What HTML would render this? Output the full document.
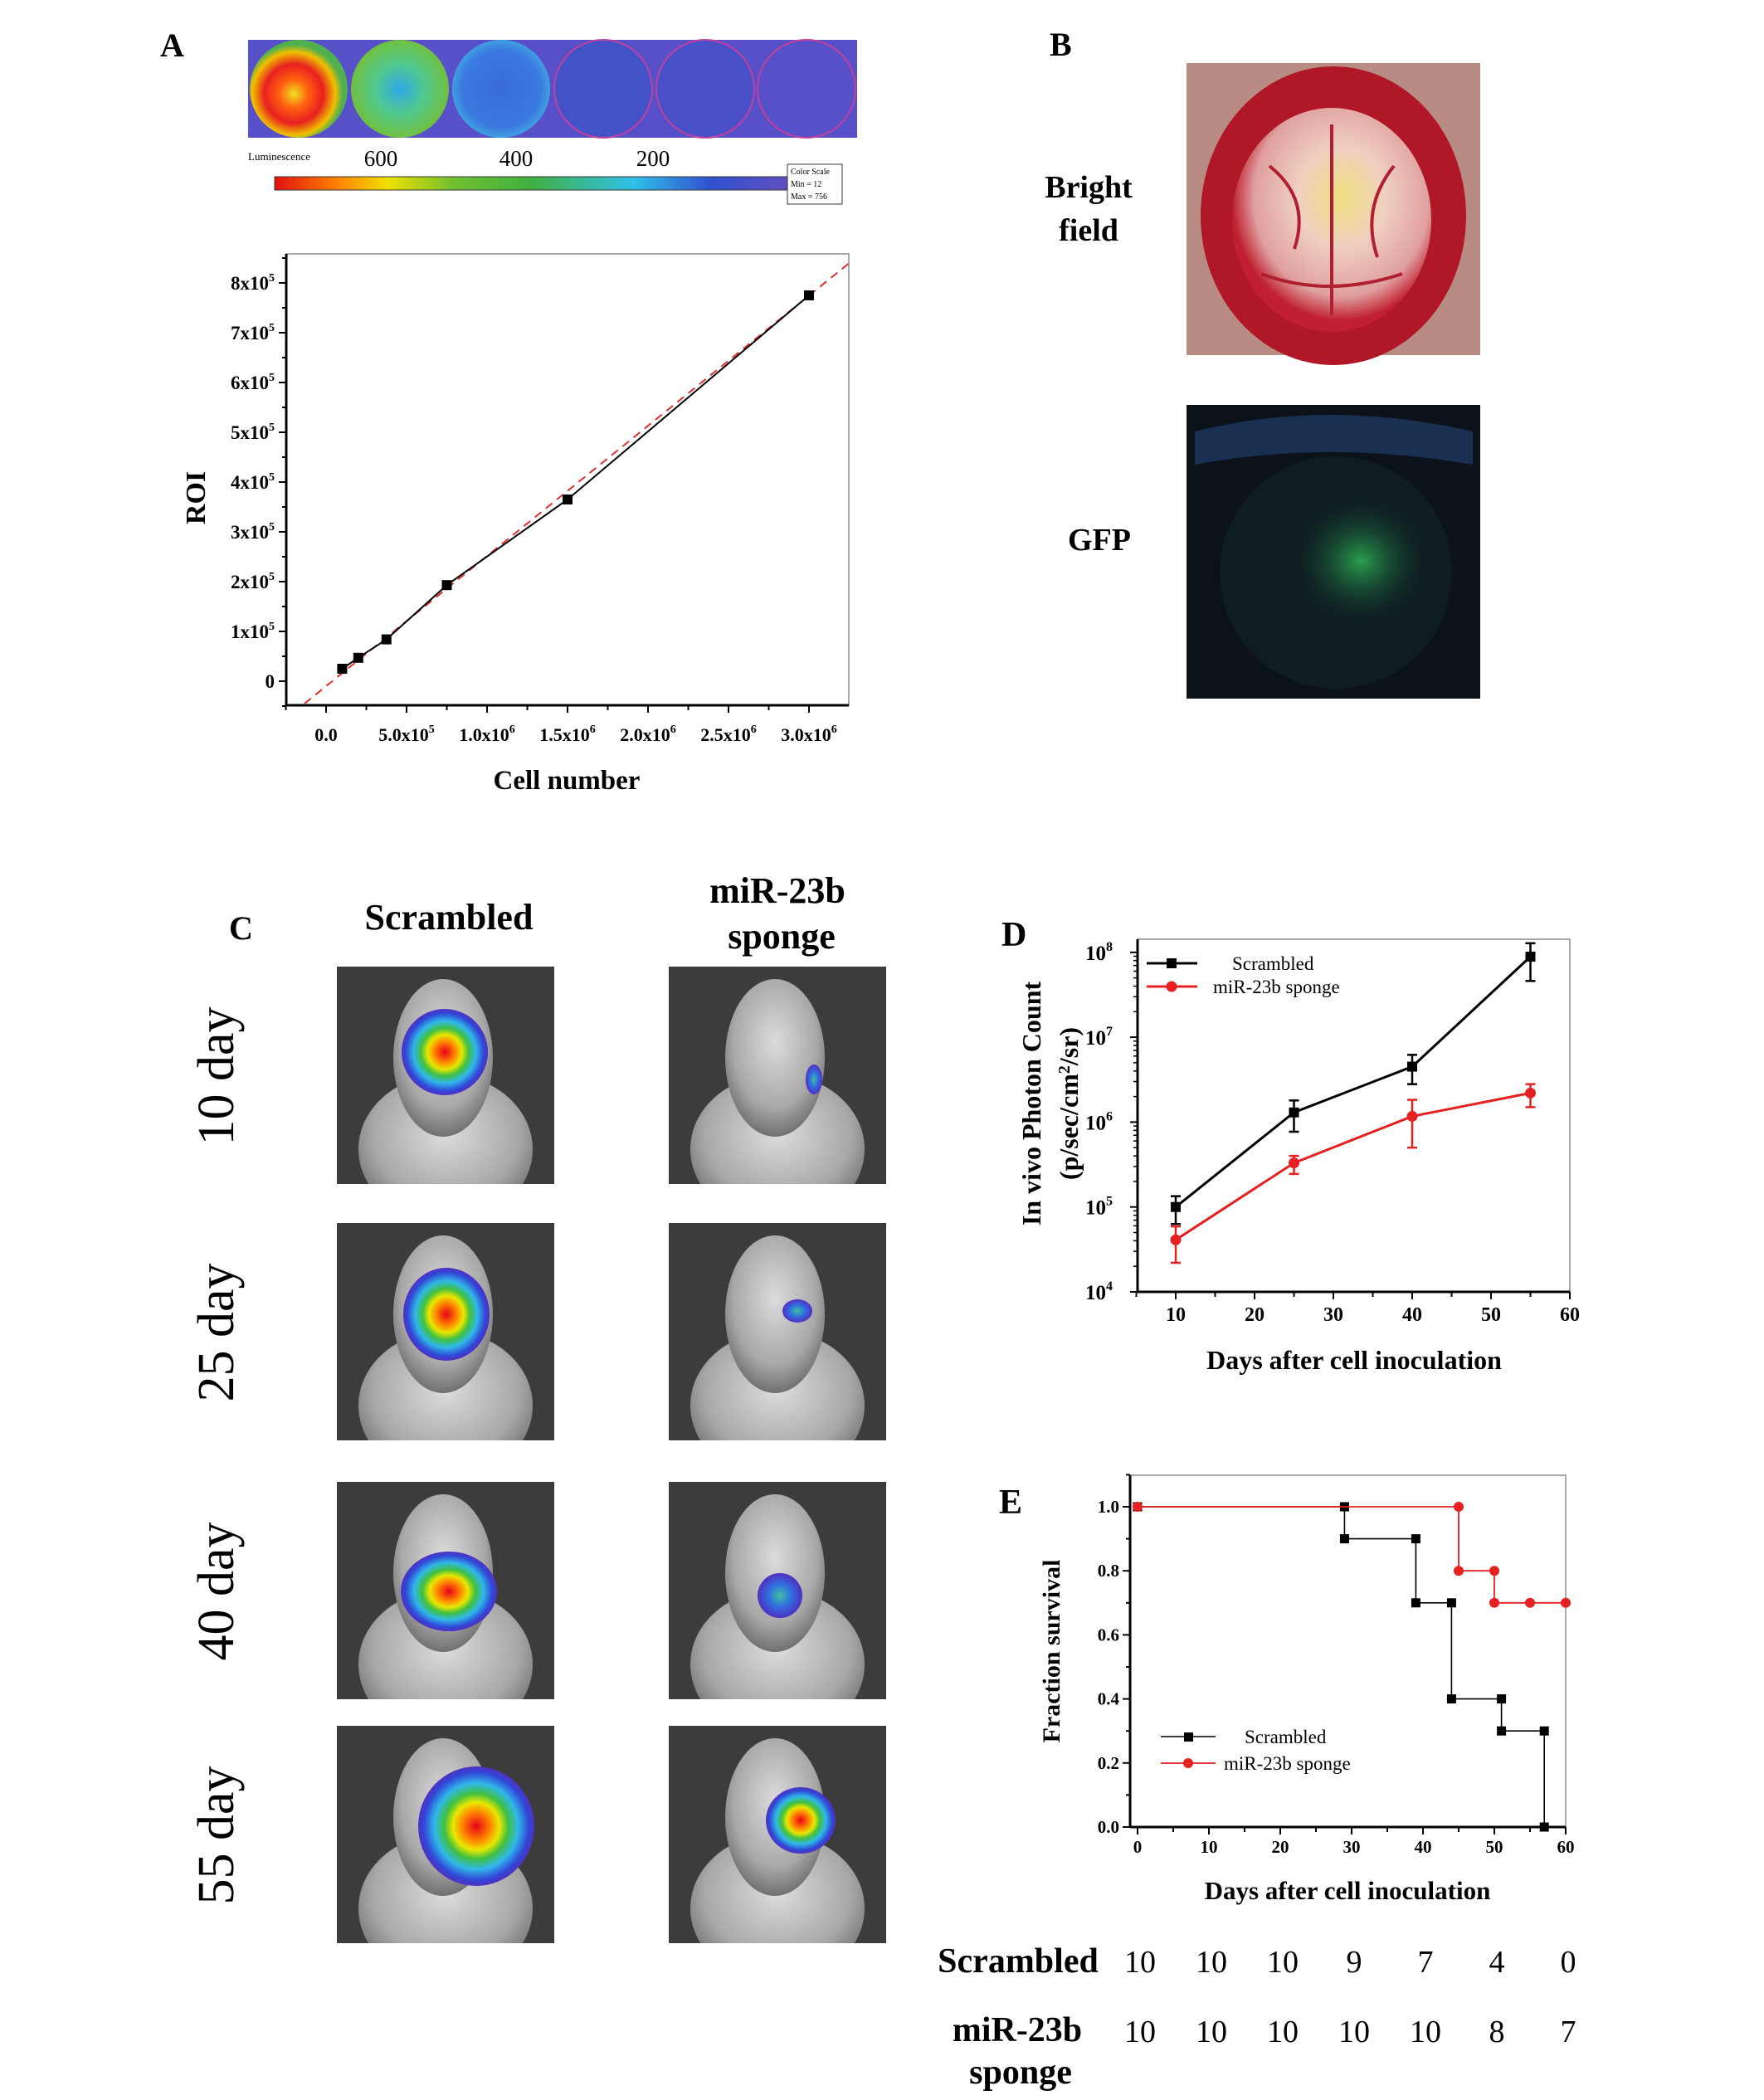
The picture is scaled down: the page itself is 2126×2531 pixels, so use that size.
<!DOCTYPE html>
<html><head><meta charset="utf-8"><style>
html,body{margin:0;padding:0;background:#fff}
svg{display:block}
text{font-family:"Liberation Serif",serif}
</style></head><body>
<svg id="fig" width="2126" height="2531" viewBox="0 0 2126 2531" xmlns="http://www.w3.org/2000/svg">
<defs id="defs">
<radialGradient id="hot" cx="50%" cy="50%" r="50%">
<stop offset="0" stop-color="#e8001a"/><stop offset="0.25" stop-color="#ff8a00"/><stop offset="0.4" stop-color="#e8e800"/><stop offset="0.55" stop-color="#40c040"/><stop offset="0.72" stop-color="#30b8e8"/><stop offset="0.9" stop-color="#3048d8"/><stop offset="1" stop-color="#5030c0"/></radialGradient>
<radialGradient id="cool" cx="50%" cy="50%" r="50%">
<stop offset="0" stop-color="#40c0a0"/><stop offset="0.5" stop-color="#3070e0"/><stop offset="1" stop-color="#5030c0"/></radialGradient>
<radialGradient id="mouse" cx="50%" cy="40%" r="60%">
<stop offset="0" stop-color="#dcdcdc"/><stop offset="0.7" stop-color="#a8a8a8"/><stop offset="1" stop-color="#707070"/></radialGradient>
<radialGradient id="well1" cx="45%" cy="55%" r="50%"><stop offset="0" stop-color="#f0e020"/><stop offset="0.3" stop-color="#ff6010"/><stop offset="0.6" stop-color="#e82020"/><stop offset="0.85" stop-color="#f0c000"/><stop offset="1" stop-color="#50b050"/></radialGradient>
<radialGradient id="well2" cx="50%" cy="50%" r="50%"><stop offset="0" stop-color="#30a8e8"/><stop offset="0.5" stop-color="#50c890"/><stop offset="1" stop-color="#70c040"/></radialGradient>
<radialGradient id="well3" cx="50%" cy="50%" r="50%"><stop offset="0" stop-color="#3a6ad8"/><stop offset="0.8" stop-color="#3a7ae0"/><stop offset="1" stop-color="#40a0e0"/></radialGradient>
<radialGradient id="brain" cx="55%" cy="40%" r="55%"><stop offset="0" stop-color="#f0e080"/><stop offset="0.4" stop-color="#f0d0c0"/><stop offset="0.8" stop-color="#e0a0a0"/><stop offset="1" stop-color="#c02030"/></radialGradient>
<radialGradient id="gfp" cx="60%" cy="45%" r="30%"><stop offset="0" stop-color="#2aa050"/><stop offset="1" stop-color="#0a1a20" stop-opacity="0"/></radialGradient>
<linearGradient id="cbar" x1="0" x2="1"><stop offset="0" stop-color="#e01010"/><stop offset="0.12" stop-color="#ff8000"/><stop offset="0.22" stop-color="#f0e000"/><stop offset="0.35" stop-color="#70c030"/><stop offset="0.5" stop-color="#40b040"/><stop offset="0.7" stop-color="#30c0e8"/><stop offset="0.85" stop-color="#3050d0"/><stop offset="1" stop-color="#6050c0"/></linearGradient>
</defs>

<g>
<rect x="299" y="48" width="734" height="118" fill="#5850c8"/>
<circle cx="360" cy="107" r="59" fill="url(#well1)"/>
<circle cx="482" cy="107" r="59" fill="url(#well2)"/>
<circle cx="604" cy="107" r="59" fill="url(#well3)"/>
<circle cx="727" cy="107" r="59" fill="#4452c8" stroke="#c040a0" stroke-width="2"/>
<circle cx="850" cy="107" r="59" fill="#4a50c8" stroke="#c040a0" stroke-width="2"/>
<circle cx="972" cy="107" r="59" fill="#5850c8" stroke="#c040a0" stroke-width="2"/>
</g>
<text x="299" y="193" font-family="Liberation Sans" font-size="13">Luminescence</text>
<g font-size="27" text-anchor="middle"><text x="459" y="200">600</text><text x="622" y="200">400</text><text x="787" y="200">200</text></g>
<rect x="331" y="213" width="618" height="16" fill="url(#cbar)" stroke="#333"/>
<rect x="949" y="198" width="66" height="48" fill="#fff" stroke="#333"/>
<g font-family="Liberation Sans" font-size="10"><text x="953" y="210">Color Scale</text><text x="953" y="225">Min = 12</text><text x="953" y="240">Max = 756</text></g>
<text x="193" y="68" font-size="40" font-weight="bold">A</text>
<g id="chartA"></g>

<text x="1265" y="67" font-size="40" font-weight="bold">B</text>
<text x="1312" y="238" font-size="38" font-weight="bold" text-anchor="middle">Bright</text>
<text x="1312" y="290" font-size="38" font-weight="bold" text-anchor="middle">field</text>
<text x="1325" y="663" font-size="38" font-weight="bold" text-anchor="middle">GFP</text>
<g>
<rect x="1430" y="76" width="354" height="352" fill="#b88c84"/>
<ellipse cx="1607" cy="260" rx="160" ry="180" fill="#b01828"/>
<ellipse cx="1605" cy="265" rx="120" ry="135" fill="url(#brain)"/>
<path d="M1605 150 L1605 380 M1530 200 Q1580 240 1560 300 M1680 200 Q1640 250 1660 310 M1520 330 Q1600 360 1690 330" stroke="#b02030" stroke-width="4" fill="none"/>
</g>
<g>
<rect x="1430" y="488" width="354" height="354" fill="#0b121a"/>
<path d="M1440 520 Q1600 480 1775 520 L1775 560 Q1600 530 1440 560 Z" fill="#1a3050"/>
<ellipse cx="1610" cy="690" rx="140" ry="140" fill="#0f1c22"/>
<ellipse cx="1610" cy="690" rx="150" ry="140" fill="url(#gfp)"/>
</g>

<text x="276" y="1132" font-size="40" font-weight="bold">C</text>
<text x="541" y="1120" font-size="44" font-weight="bold" text-anchor="middle">Scrambled</text>
<text x="937" y="1088" font-size="44" font-weight="bold" text-anchor="middle">miR-23b</text>
<text x="942" y="1143" font-size="44" font-weight="bold" text-anchor="middle">sponge</text>
<g id="panelC"></g>

<g id="chartD"></g>
<g id="chartE"></g>
<g id="tableE"></g>
</svg>
<script>
const cellNumbers = [1e5, 2e5, 3.75e5, 7.5e5, 1.5e6, 3e6];
const roiValues = [2.5e4, 4.7e4, 8.4e4, 1.93e5, 3.65e5, 7.75e5];
const fitSlope = 0.2615, fitIntercept = -10000;
const aYTicks = [0,1,2,3,4,5,6,7,8];
const aXTicks = ["0.0","5.0x10","1.0x10","1.5x10","2.0x10","2.5x10","3.0x10"];
const aXExp = ["","5","6","6","6","6","6"];
const dDays = [10, 25, 40, 55];
const dScr = [1e5, 1.3e6, 4.5e6, 8.9e7];
const dScrLo = [6.3e4, 7.7e5, 2.8e6, 4.6e7];
const dScrHi = [1.34e5, 1.8e6, 6.2e6, 1.28e8];
const dSpo = [4.1e4, 3.3e5, 1.17e6, 2.2e6];
const dSpoLo = [2.2e4, 2.45e5, 5e5, 1.5e6];
const dSpoHi = [5.9e4, 4.0e5, 1.83e6, 2.8e6];
const dXTicks = [10,20,30,40,50,60];
const dYExp = [4,5,6,7,8];
const eScrDays = [0,29,29,39,39,44,44,51,51,57,57];
const eScrSurv = [1,1,0.9,0.9,0.7,0.7,0.4,0.4,0.3,0.3,0];
const eSpoDays = [0,45,45,50,50,55,60];
const eSpoSurv = [1,1,0.8,0.8,0.7,0.7,0.7];
const eXTicks = [0,10,20,30,40,50,60];
const eYTicks = [0,0.2,0.4,0.6,0.8,1.0];
const riskScr = [10,10,10,9,7,4,0];
const riskSpo = [10,10,10,10,10,8,7];

const NS="http://www.w3.org/2000/svg";
function mk(tag, attrs, parent, txt){const e=document.createElementNS(NS,tag);for(const k in attrs)e.setAttribute(k,attrs[k]);if(txt!==undefined)e.textContent=txt;parent.appendChild(e);return e;}

(function(){
const g=document.getElementById('chartA');
const ax=v=>393+v/5e5*97, ay=v=>821-v/1e5*60;
const L=345,R=1023,T=306,B=850;
const fr=mk('rect',{x:L,y:T,width:R-L,height:B-T,fill:'none',stroke:'#aaa','stroke-width':2},g);


mk('line',{x1:L,y1:T,x2:L,y2:B,stroke:'#000','stroke-width':3},g);
mk('line',{x1:L,y1:B,x2:R,y2:B,stroke:'#000','stroke-width':3},g);
aYTicks.forEach(t=>{const y=ay(t*1e5);mk('line',{x1:L-9,y1:y,x2:L,y2:y,stroke:'#000','stroke-width':2},g);
 const y2=ay(t*1e5+5e4); if(y2>T) mk('line',{x1:L-5,y1:y2,x2:L,y2:y2,stroke:'#000','stroke-width':2},g);
 const tx=mk('text',{x:L-14,y:y+8,'font-size':23,'font-weight':'bold','text-anchor':'end'},g);
 
 
 if(t===0){tx.textContent='0';}else{tx.textContent=t+'x10';mk('tspan',{dy:-10,'font-size':14},tx,'5');}
});
mk('line',{x1:L-5,y1:ay(-5e4),x2:L,y2:ay(-5e4),stroke:'#000','stroke-width':2},g);
aXTicks.forEach((lab,i)=>{const x=ax(i*5e5);mk('line',{x1:x,y1:B,x2:x,y2:B+9,stroke:'#000','stroke-width':2},g);
 const xm=ax(i*5e5+2.5e5); if(xm<R) mk('line',{x1:xm,y1:B,x2:xm,y2:B+6,stroke:'#000','stroke-width':2},g);
 const tx=mk('text',{x:x,y:B+43,'font-size':22,'font-weight':'bold','text-anchor':'middle'},g,lab);
 
 
 if(aXExp[i]) mk('tspan',{dy:-10,'font-size':14},tx,aXExp[i]);
});
mk('line',{x1:ax(-2.5e5),y1:B,x2:ax(-2.5e5),y2:B+6,stroke:'#000','stroke-width':2},g);
const x0=-1.34e5,x1=3.25e6;
const fit=mk('line',{x1:ax(x0),y1:ay(fitSlope*x0+fitIntercept),x2:ax(x1),y2:ay(fitSlope*x1+fitIntercept),stroke:'#e03030','stroke-width':2,'stroke-dasharray':'10,7'},g);


const pl=mk('polyline',{points:cellNumbers.map((c,i)=>ax(c)+','+ay(roiValues[i])).join(' '),fill:'none',stroke:'#000','stroke-width':2},g);


cellNumbers.forEach((c,i)=>{const r=mk('rect',{x:ax(c)-6,y:ay(roiValues[i])-6,width:12,height:12,fill:'#000'},g);
 
 });
const yt=mk('text',{x:0,y:0,'font-size':34,'font-weight':'bold','text-anchor':'middle',transform:'translate(247,600) rotate(-90)'},g,'ROI');


const xt=mk('text',{x:683,y:951,'font-size':33,'font-weight':'bold','text-anchor':'middle'},g,'Cell number');


})();

(function(){
const g=document.getElementById('panelC');
const defs=document.getElementById('defs');
const cols=[406,806], rows=[1165,1474,1786,2080];
const blobs=[[[536,1268,52,52,'hot'],[981,1301,10,18,'cool']],
 [[538,1584,52,56,'hot'],[961,1580,18,14,'cool']],
 [[541,1918,58,48,'hot'],[940,1923,27,27,'cool']],
 [[574,2201,70,72,'hot'],[965,2194,42,40,'hot']]];
const labels=['10 day','25 day','40 day','55 day'];
let n=0;
rows.forEach((ry,r)=>{
 const lab=mk('text',{x:0,y:0,'font-size':62,'text-anchor':'middle',transform:`translate(281,${ry+132}) rotate(-90)`},g,labels[r]);
 
 
 cols.forEach((cx,c)=>{
  const cp=mk('clipPath',{id:'cp'+n},defs);
  mk('rect',{x:cx,y:ry,width:262,height:262},cp);
  const im=mk('g',{'clip-path':`url(#cp${n})`},g);
  n++;
  
  
  mk('rect',{x:cx,y:ry,width:262,height:262,fill:'#3c3c3c'},im);
  mk('ellipse',{cx:cx+131,cy:ry+220,rx:105,ry:90,fill:'url(#mouse)'},im);
  mk('ellipse',{cx:cx+128,cy:ry+110,rx:60,ry:95,fill:'url(#mouse)'},im);
  const b=blobs[r][c];
  mk('ellipse',{cx:b[0],cy:b[1],rx:b[2],ry:b[3],fill:`url(#${b[4]})`},im);
 });
});
})();

(function(){
const g=document.getElementById('chartD');
const L=1371,R=1892,T=1132,B=1557;
const dx=d=>1417+(d-10)*9.5, dy=v=>1557-(Math.log10(v)-4)*102.3;
mk('rect',{x:L,y:T,width:R-L,height:B-T,fill:'none',stroke:'#aaa','stroke-width':2},g);
mk('line',{x1:L,y1:T,x2:L,y2:B,stroke:'#000','stroke-width':3},g);
mk('line',{x1:L,y1:B,x2:R,y2:B,stroke:'#000','stroke-width':3},g);
dYExp.forEach(e=>{const y=dy(Math.pow(10,e));mk('line',{x1:L-9,y1:y,x2:L,y2:y,stroke:'#000','stroke-width':2},g);
 if(e<8)for(let k=2;k<10;k++){const yy=dy(k*Math.pow(10,e));mk('line',{x1:L-5,y1:yy,x2:L,y2:yy,stroke:'#000','stroke-width':1.5},g);}
 const tx=mk('text',{x:L-30,y:y+9,'font-size':25,'font-weight':'bold','text-anchor':'end'},g,'10');
 
 
 mk('tspan',{dy:-11,'font-size':16},tx,String(e));
});
dXTicks.forEach(d=>{const x=dx(d);mk('line',{x1:x,y1:B,x2:x,y2:B+9,stroke:'#000','stroke-width':2},g);
 if(d<60) mk('line',{x1:dx(d+5),y1:B,x2:dx(d+5),y2:B+6,stroke:'#000','stroke-width':2},g);
 const tx=mk('text',{x:x,y:B+35,'font-size':24,'font-weight':'bold','text-anchor':'middle'},g,String(d));
 
 });
mk('line',{x1:dx(5),y1:B,x2:dx(5),y2:B+6,stroke:'#000','stroke-width':2},g);
function series(vals,lo,hi,col,shape,name){
 const pl=mk('polyline',{points:dDays.map((d,i)=>dx(d)+','+dy(vals[i])).join(' '),fill:'none',stroke:col,'stroke-width':3},g);
 
 
 dDays.forEach((d,i)=>{const x=dx(d);
  mk('line',{x1:x,y1:dy(lo[i]),x2:x,y2:dy(hi[i]),stroke:col,'stroke-width':2.5},g);
  mk('line',{x1:x-6,y1:dy(lo[i]),x2:x+6,y2:dy(lo[i]),stroke:col,'stroke-width':2.5},g);
  mk('line',{x1:x-6,y1:dy(hi[i]),x2:x+6,y2:dy(hi[i]),stroke:col,'stroke-width':2.5},g);
  const m= shape==='sq'? mk('rect',{x:x-6,y:dy(vals[i])-6,width:12,height:12,fill:col},g) : mk('circle',{cx:x,cy:dy(vals[i]),r:6.5,fill:col},g);
  
  
 });
}
series(dScr,dScrLo,dScrHi,'#000','sq','scrambled');
series(dSpo,dSpoLo,dSpoHi,'#e52020','ci','sponge');
const lg=mk('g',{},g);


mk('line',{x1:1382,y1:1161,x2:1443,y2:1161,stroke:'#000','stroke-width':3},lg);
mk('rect',{x:1406,y:1155,width:12,height:12,fill:'#000'},lg);
mk('text',{x:1485,y:1169,'font-size':23},lg,'Scrambled');
mk('line',{x1:1382,y1:1189,x2:1443,y2:1189,stroke:'#e52020','stroke-width':3},lg);
mk('circle',{cx:1412,cy:1189,r:6.5,fill:'#e52020'},lg);
mk('text',{x:1462,y:1197,'font-size':23},lg,'miR-23b sponge');
const yt=mk('text',{x:0,y:0,'font-size':32,'font-weight':'bold','text-anchor':'middle',transform:'translate(1254,1330) rotate(-90)'},g,'In vivo Photon Count');


const yt2=mk('text',{x:0,y:0,'font-size':32,'font-weight':'bold','text-anchor':'middle',transform:'translate(1299,1330) rotate(-90)'},g,'(p/sec/cm');
mk('tspan',{dy:-10,'font-size':20},yt2,'2');
mk('tspan',{dy:10},yt2,'/sr)');
const xt=mk('text',{x:1632,y:1650,'font-size':32,'font-weight':'bold','text-anchor':'middle'},g,'Days after cell inoculation');


const pl=mk('text',{x:1207,y:1140,'font-size':42,'font-weight':'bold'},g,'D');


})();

(function(){
const g=document.getElementById('chartE');
const L=1362,R=1887,T=1778,B=2202;
const ex=d=>1371+d*8.6, ey=v=>2202-v*386;
mk('rect',{x:L,y:T,width:R-L,height:B-T,fill:'none',stroke:'#aaa','stroke-width':2},g);
mk('line',{x1:L,y1:T,x2:L,y2:B,stroke:'#000','stroke-width':3},g);
mk('line',{x1:L,y1:B,x2:R,y2:B,stroke:'#000','stroke-width':3},g);
eYTicks.forEach(t=>{const y=ey(t);mk('line',{x1:L-9,y1:y,x2:L,y2:y,stroke:'#000','stroke-width':2},g);
 mk('line',{x1:L-5,y1:ey(t+0.1),x2:L,y2:ey(t+0.1),stroke:'#000','stroke-width':2},g);
 const tx=mk('text',{x:L-13,y:y+7,'font-size':21,'font-weight':'bold','text-anchor':'end'},g,t.toFixed(1));
 
 });
eXTicks.forEach(d=>{const x=ex(d);mk('line',{x1:x,y1:B,x2:x,y2:B+9,stroke:'#000','stroke-width':2},g);
 if(d<60) mk('line',{x1:ex(d+5),y1:B,x2:ex(d+5),y2:B+6,stroke:'#000','stroke-width':2},g);
 const tx=mk('text',{x:x,y:B+31,'font-size':21,'font-weight':'bold','text-anchor':'middle'},g,String(d));
 
 });
function steps(ds,vs,col,shape,name,w){
 const pl=mk('polyline',{points:ds.map((d,i)=>ex(d)+','+ey(vs[i])).join(' '),fill:'none',stroke:col,'stroke-width':w},g);
 
 
 ds.forEach((d,i)=>{const m= shape==='sq'? mk('rect',{x:ex(d)-5.5,y:ey(vs[i])-5.5,width:11,height:11,fill:col},g) : mk('circle',{cx:ex(d),cy:ey(vs[i]),r:6,fill:col},g);
  
  });
}
steps(eScrDays,eScrSurv,'#000','sq','scrambled',1.6);
steps(eSpoDays,eSpoSurv,'#e52020','ci','sponge',1.8);
const lg=mk('g',{},g);


mk('line',{x1:1399,y1:2093,x2:1465,y2:2093,stroke:'#000','stroke-width':1.6},lg);
mk('rect',{x:1427,y:2088,width:11,height:11,fill:'#000'},lg);
mk('text',{x:1500,y:2101,'font-size':23},lg,'Scrambled');
mk('line',{x1:1399,y1:2125,x2:1465,y2:2125,stroke:'#e52020','stroke-width':1.8},lg);
mk('circle',{cx:1432,cy:2125,r:6,fill:'#e52020'},lg);
mk('text',{x:1475,y:2133,'font-size':23},lg,'miR-23b sponge');
const yt=mk('text',{x:0,y:0,'font-size':30,'font-weight':'bold','text-anchor':'middle',transform:'translate(1277,1990) rotate(-90)'},g,'Fraction survival');


const xt=mk('text',{x:1624,y:2289,'font-size':31,'font-weight':'bold','text-anchor':'middle'},g,'Days after cell inoculation');


const pl=mk('text',{x:1204,y:1824,'font-size':42,'font-weight':'bold'},g,'E');


const tg=document.getElementById('tableE');
const r1=mk('text',{x:1227,y:2377,'font-size':42,'font-weight':'bold','text-anchor':'middle'},tg,'Scrambled');


const r2=mk('text',{x:1226,y:2460,'font-size':42,'font-weight':'bold','text-anchor':'middle'},tg,'miR-23b');


mk('text',{x:1230,y:2511,'font-size':42,'font-weight':'bold','text-anchor':'middle'},tg,'sponge');
eXTicks.forEach((d,i)=>{
 const a=mk('text',{x:ex(d)+3,y:2377,'font-size':38,'text-anchor':'middle'},tg,String(riskScr[i]));
 
 
 const b=mk('text',{x:ex(d)+3,y:2461,'font-size':38,'text-anchor':'middle'},tg,String(riskSpo[i]));
 
 
});
})();
</script>
</body></html>
